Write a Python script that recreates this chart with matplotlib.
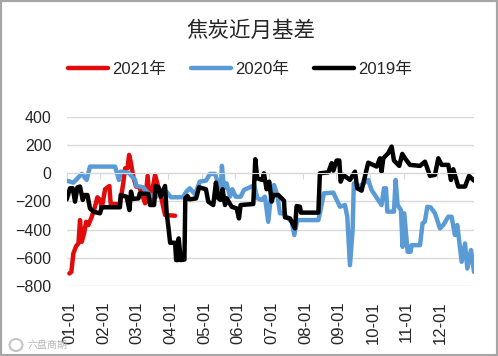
import matplotlib
matplotlib.use("agg")
from matplotlib import pyplot as plt
from matplotlib.patches import Ellipse, Rectangle
from matplotlib.transforms import ScaledTranslation

plt.rcParams["font.family"] = ["Liberation Sans", "Noto Sans CJK SC"]

title = "焦炭近月基差"
watermark = "六盘商期"
y_ticks = [-800, -600, -400, -200, 0, 200, 400]
month_labels = ["01-01", "02-01", "03-01", "04-01", "05-01", "06-01",
                "07-01", "08-01", "09-01", "10-01", "11-01", "12-01"]
month_pos = [0, 30.4, 60.8, 91.2, 121.6, 152, 182.4, 212.8, 243.2, 273.6, 304, 334.4]

days_2021 = [2.4, 4.2, 6, 8.5, 10.6, 12, 13.6, 15.7, 17.5, 19.6, 22.6, 24.7, 27.7, 30, 31.6,
             34.6, 38.5, 39.7, 48, 51, 52.7, 54.8, 56.3, 58, 60, 62.6, 65.6, 70.7, 73, 75,
             79.7, 82.7, 85.7, 88.7, 97.8]
vals_2021 = [-711, -700, -569, -517, -498, -332, -486, -427, -344, -367, -308, -260, -170, -189, -249,
             -113, -90, -218, -218, -71, 36, 36, 131, 72, -23, -94, -99, -213, -18, -213,
             -11, -99, -189, -296, -301]

days_2020 = [0, 6, 13.6, 18, 21, 43.6, 47.2, 48.7, 55.7, 61.7, 63, 69, 75, 81, 85.7, 90, 94,
             104.7, 108, 111, 115.8, 120, 125.7, 129.2, 133.7, 136.7, 138.8, 140, 141.9, 144.3,
             147.3, 149.4, 152.4, 156.9, 159.9, 165.3, 169.2, 171.9, 175.8, 178.8, 181.8, 184,
             187, 190, 192.4, 195.4, 199, 202.9, 205.3, 208, 227, 229, 232, 240.5, 246.5, 251,
             253.1, 255.5, 257.9, 259, 261.5, 272, 275, 284, 286.2, 288, 289.2, 295.2, 296.7,
             298.5, 301.5, 303, 304.5, 307.5, 310.2, 311.1, 318.7, 321, 323, 325.3, 328.3, 332.2,
             336.7, 339.7, 344.2, 347.2, 350.2, 352.3, 356.3, 359.3, 361.4, 364.7, 367.4]
vals_2020 = [-52, -66, -4, -47, 48, 48, -47, 12, 5, -47, -90, -99, -154, -166, -118, -130, -170,
             -170, -130, -106, -149, -59, -52, -4, -4, -71, -142, 53, -106, -71,
             -166, -113, -166, -166, -118, -99, -83, -177, -189, -166, -344, -177,
             -83, -154, -284, -284, -313, -344, -438, -332, -332, -261, -142, -137, -237, -225,
             -308, -652, -403, -71, -106, -47, -118, -225, -106, -106, -272, -272, -47,
             -225, -261, -522, -284, -557, -557, -510, -510, -355, -344, -237, -242, -284,
             -391, -367, -308, -308, -438, -367, -628, -498, -676, -545, -700]

days_2019 = [0, 3, 5.4, 7.5, 9.7, 12, 14.5, 16, 18.7, 21, 24, 30, 31.6, 48, 48.7, 54, 56.6, 58,
             59.6, 64.7, 66, 73.7, 75.2, 78.8, 80.3, 82.7, 84.8, 88.7, 90.2, 91.7, 93.3, 97.8,
             98.7, 100.2, 101, 102.9, 106.2, 107, 108.9, 110.7, 116.7, 119.4, 125.6, 127.7, 132.2,
             134.6, 136.7, 138.8, 140.6, 142.8, 144.3, 148.8, 153.3, 155.4, 156.9, 168.3, 170.1,
             171.9, 174.3, 176.4, 177.9, 180.3, 182.7, 184.9, 186.4, 190.9, 196, 196.9, 201.4,
             205.9, 207.4, 210.4, 211.3, 227, 228.4, 236, 239, 240.5, 243.5, 245.9, 247.1, 249.5,
             255.5, 260, 262.1, 266, 269, 272, 279.6, 282.6, 284, 285.6, 290, 293.1, 295.2, 300,
             302.7, 305.1, 309.6, 318.7, 323.2, 327.7, 332.2, 335.2, 338.2, 344.2, 346.6, 348.7,
             353.2, 359.3, 362.9, 367.4]
vals_2019 = [-185, -106, -106, -201, -99, -94, -189, -154, -154, -249, -272, -284, -241, -241, -154, -166, -261, -130,
             -182, -178, -142, -147, -225, -225, -90, -99, -166, -90, -284, -379, -493, -493,
             -616, -616, -462, -616, -612, -177, -161, -185, -178, -99, -113, -201, -225,
             -66, -177, -189, -113, -225, -177, -237, -249, -320, -225, -218, 100,
             -35, -42, -47, 0, -113, -59, -201, -154, -154, -194, -313, -320,
             -391, -232, -237, -279, -279, 0, 7, 72, 19, 91, 91, -59, -11,
             -47, 12, -106, -123, -23, 76, 48, 107, 12, 107, 143, 190, 91, 53,
             138, 107, 60, 53, 83, -18, -11, 107, 60, 60, -47, 29,
             -94, -94, -18, -52]

W, H = 498, 356
fig = plt.figure(figsize=(W / 100, H / 100), dpi=100)
fig.patches.append(Rectangle((0, 0), 1, 1, transform=fig.transFigure, fill=False,
                             edgecolor="#a6a6a6", linewidth=3))
ax = fig.add_axes([66.7 / W, 1 - 286 / H, (474 - 66.7) / W, (286 - 117) / H])

# moving the spine resets the ticks, so it has to come first
for s in ["top", "left", "right"]:
    ax.spines[s].set_visible(False)
ax.spines["bottom"].set_position(("data", 0))
ax.spines["bottom"].set_color("#d9d9d9")

lw = 3.2
ax.plot(days_2021, vals_2021, color="#e00b0b", lw=lw, label="2021年", solid_capstyle="round")
ax.plot(days_2020, vals_2020, color="#5b9bd5", lw=lw, label="2020年", solid_capstyle="round")
ax.plot(days_2019, vals_2019, color="#000000", lw=lw, label="2019年", solid_capstyle="round")

ax.set_xlim(0, 367.4)
ax.set_ylim(-800, 400)
ax.set_yticks(y_ticks)
ax.set_xticks(month_pos)
ax.set_xticklabels(month_labels, rotation=90)
ax.grid(axis="y", color="#d9d9d9", lw=1)
ax.set_axisbelow(True)
ax.tick_params(axis="y", length=0, labelsize=11.5, pad=11, labelcolor="#262626")
ax.tick_params(axis="x", length=4, color="#d9d9d9", labelsize=12, pad=88, labelcolor="#262626")
for label in ax.get_xticklabels():
    label.set_transform(label.get_transform() + ScaledTranslation(3 / 100, 0, fig.dpi_scale_trans))

fig.text(251 / W, 1 - 31 / H, title, fontsize=15.5, ha="center", va="center", color="#262626")
fig.legend(loc="center", bbox_to_anchor=(240 / W, 1 - 69 / H), ncol=3, frameon=False,
           fontsize=12, handlelength=2.4, handletextpad=0.29, columnspacing=1.46,
           labelcolor="#262626")
fig.patches.append(Ellipse((16 / W, 1 - 345 / H), 13 / W, 12 / H, transform=fig.transFigure,
                           fill=False, edgecolor="#c4c4c4", linewidth=1.5))
fig.text(27 / W, 1 - 345 / H, watermark, fontsize=7.2, color="#b8b8b8", ha="left", va="center")

plt.savefig("out.png", format="png", dpi=100)
